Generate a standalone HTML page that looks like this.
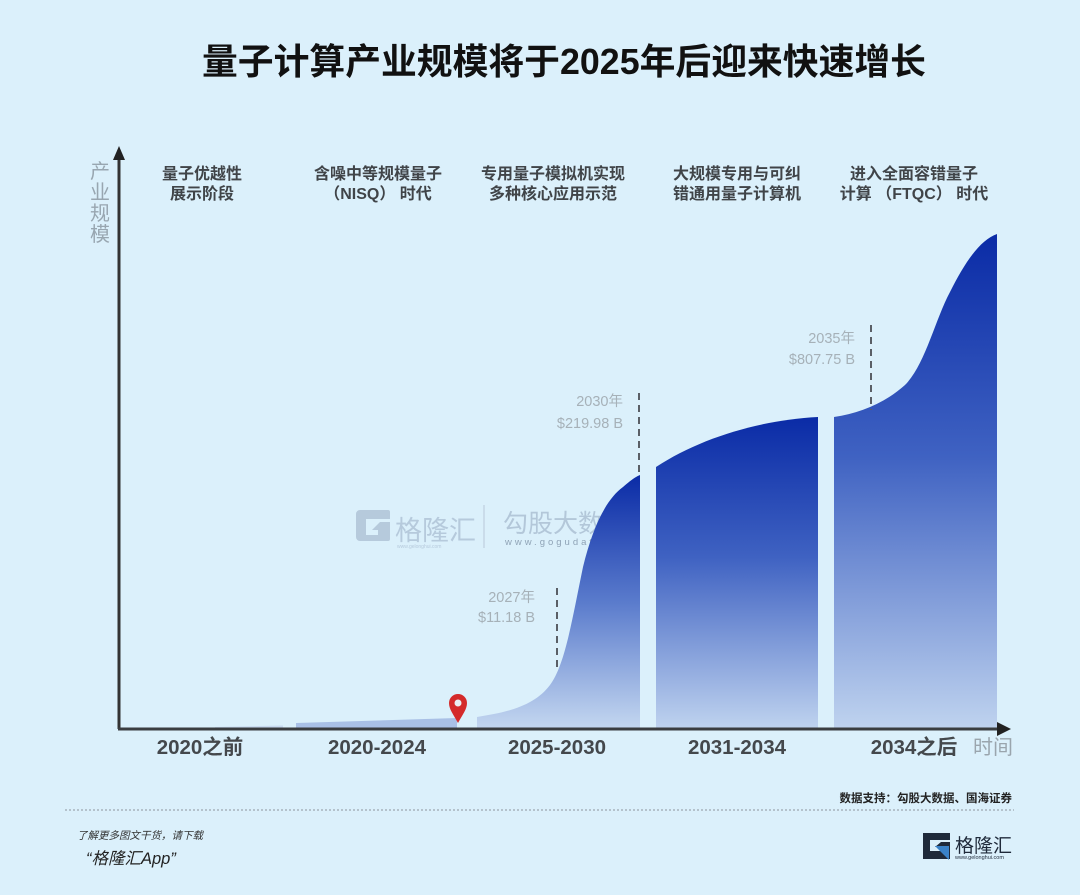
<!DOCTYPE html>
<html><head><meta charset="utf-8"><style>
html,body{margin:0;padding:0;background:#dbf0fb;}
svg{display:block;}
text{font-family:"Liberation Sans","Noto Sans CJK SC",sans-serif;}
</style></head><body>
<svg width="1080" height="895" viewBox="0 0 1080 895" xmlns="http://www.w3.org/2000/svg">
<defs>
<linearGradient id="g" x1="0" y1="0" x2="0" y2="1">
<stop offset="0" stop-color="#0a2ba6"/>
<stop offset="0.45" stop-color="#3f62c2"/>
<stop offset="1" stop-color="#bfd3ef"/>
</linearGradient>
<linearGradient id="g3" x1="0" y1="0" x2="0" y2="1">
<stop offset="0" stop-color="#0a2ba6"/>
<stop offset="0.5" stop-color="#5a7bcc"/>
<stop offset="1" stop-color="#c4d7f0"/>
</linearGradient>
</defs>
<rect width="1080" height="895" fill="#dbf0fb"/>

<!-- Title -->
<text x="564" y="74" font-size="35.8" font-weight="bold" fill="#111" text-anchor="middle">量子计算产业规模将于2025年后迎来快速增长</text>

<!-- Phase headings -->
<g font-size="16" font-weight="bold" fill="#404448" text-anchor="middle">
<text x="202" y="179">量子优越性</text><text x="202" y="199">展示阶段</text>
<text x="378" y="179">含噪中等规模量子</text><text x="378" y="199">（NISQ） 时代</text>
<text x="553" y="179">专用量子模拟机实现</text><text x="553" y="199">多种核心应用示范</text>
<text x="737" y="179">大规模专用与可纠</text><text x="737" y="199">错通用量子计算机</text>
<text x="914" y="179">进入全面容错量子</text><text x="914" y="199">计算 （FTQC） 时代</text>
</g>

<!-- Y label -->
<g font-size="20" fill="#98a6b0" text-anchor="middle">
<text x="100" y="178">产</text><text x="100" y="199">业</text><text x="100" y="220">规</text><text x="100" y="241">模</text>
</g>

<!-- watermark (behind chart) -->
<g>
<path d="M360,510 h28 a2,2 0 0 1 2,2 v7 h-24 v16 h12 v-5 h-6 l8,-8 h10 v17 a2,2 0 0 1 -2,2 h-28 a4,4 0 0 1 -4,-4 v-23 a4,4 0 0 1 4,-4 Z" fill="#b6cadc"/>
<text x="395" y="540" font-size="27" fill="#b6cadc">格隆汇</text>
<text x="397" y="548" font-size="5" fill="#b6cadc">www.gelonghui.com</text>
<line x1="484" y1="505" x2="484" y2="548" stroke="#c4d6e4" stroke-width="1.5"/>
<text x="503" y="532" font-size="25" fill="#b3c7d9">勾股大数</text>
<text x="505" y="545" font-size="9.5" fill="#8fa3b6" letter-spacing="3">www.gogudata.com</text>
</g>

<!-- segments -->
<path d="M215,727 L283,725.5 L283,729 L215,729 Z" fill="#c8daf0"/>
<path d="M296,723 L457,718 L457,729 L296,729 Z" fill="#a9c0e6"/>
<path d="M477,717 C510,712 535,705 550,685 C565,665 572,620 583,567 C592,530 605,500 623,487 C630,481 635,477 640,475 L640,729 L477,729 Z" fill="url(#g3)"/>
<path d="M656,467 C700,438 760,420 818,417 L818,729 L656,729 Z" fill="url(#g)"/>
<path d="M834,417 C860,413 885,403 905,385 C925,365 935,320 950,292 C965,262 980,240 997,234 L997,729 L834,729 Z" fill="url(#g)"/>

<!-- dashed lines -->
<g stroke="#5a5f66" stroke-width="2" stroke-dasharray="7,5">
<line x1="557" y1="588" x2="557" y2="667"/>
<line x1="639" y1="393" x2="639" y2="475"/>
<line x1="871" y1="325" x2="871" y2="410"/>
</g>

<!-- value labels -->
<g font-size="14.5" fill="#a6b1b8" text-anchor="end">
<text x="623" y="406">2030年</text><text x="623" y="428">$219.98 B</text>
<text x="535" y="602">2027年</text><text x="535" y="622">$11.18 B</text>
<text x="855" y="343">2035年</text><text x="855" y="364">$807.75 B</text>
</g>

<!-- axes -->
<line x1="119" y1="158" x2="119" y2="729" stroke="#333" stroke-width="3"/>
<polygon points="119,146 113,160 125,160" fill="#222"/>
<line x1="118" y1="729" x2="1000" y2="729" stroke="#3a3d40" stroke-width="3"/>
<polygon points="1011,729 997,722 997,736" fill="#222"/>

<!-- pin -->
<g>
<path d="M458,723 C453,714 449,709 449,703 A9,9 0 1 1 467,703 C467,709 463,714 458,723 Z" fill="#d42a2a"/>
<circle cx="458" cy="703" r="3.5" fill="#e9eef2"/>
</g>

<!-- x labels -->
<g font-size="20.5" font-weight="bold" fill="#44484c" text-anchor="middle">
<text x="200" y="754">2020之前</text>
<text x="377" y="754">2020-2024</text>
<text x="557" y="754">2025-2030</text>
<text x="737" y="754">2031-2034</text>
<text x="914" y="754">2034之后</text>
</g>
<text x="993" y="754" font-size="20" fill="#9aa5ad" text-anchor="middle">时间</text>

<!-- source -->
<text x="1012" y="802" font-size="11.5" font-weight="bold" fill="#222" text-anchor="end">数据支持：勾股大数据、国海证券</text>
<line x1="65" y1="810" x2="1014" y2="810" stroke="#8c959c" stroke-width="1" stroke-dasharray="2,2"/>

<!-- footer -->
<text x="77" y="839" font-size="10.5" font-style="italic" fill="#333">了解更多图文干货，请下载</text>
<text x="86" y="864" font-size="16.5" font-style="italic" fill="#222">“格隆汇App”</text>

<!-- logo -->
<path d="M923,833 h27 v7 h-20 v11 h10 v-4 h-5 l6,-5 h9 v17 h-27 Z" fill="#1f2a3a"/>
<path d="M935,846 l14,0 l0,14 Z" fill="#3a82c8"/>
<text x="955" y="852" font-size="19" fill="#1f2a3a">格隆汇</text>
<text x="955" y="859" font-size="5.5" fill="#1f2a3a">www.gelonghui.com</text>
</svg>
</body></html>
